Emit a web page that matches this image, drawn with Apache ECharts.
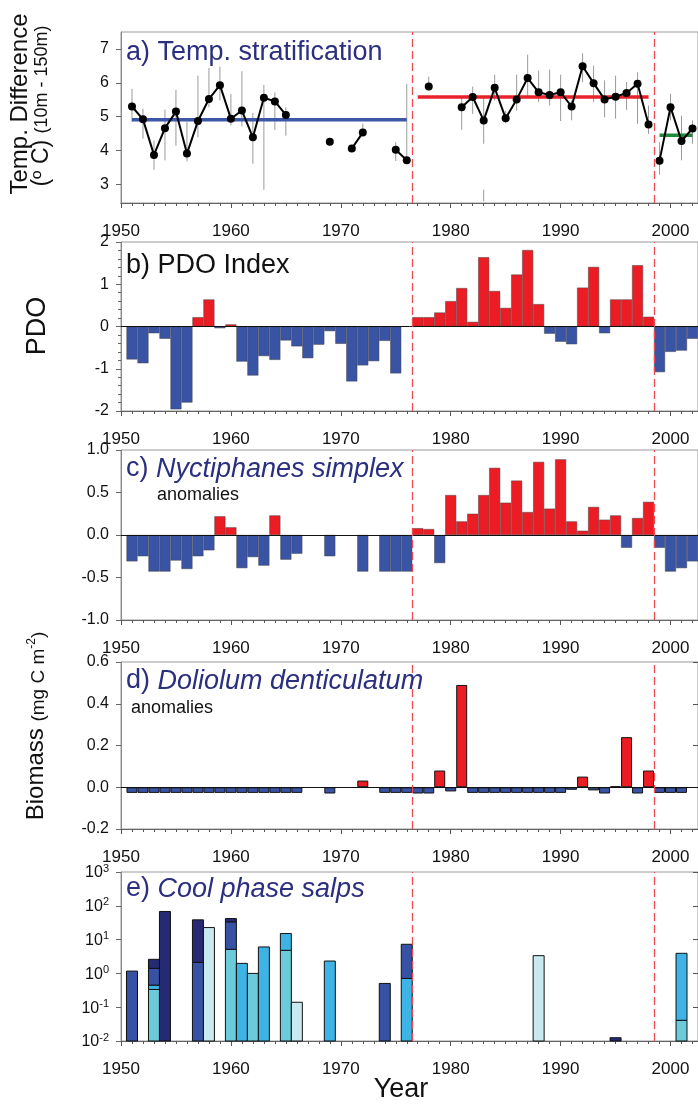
<!DOCTYPE html>
<html>
<head>
<meta charset="utf-8">
<script src="https://cdn.jsdelivr.net/npm/echarts@6/dist/echarts.min.js"></script>
<style>
  html, body { margin: 0; padding: 0; background: #fff; }
  #main { width: 698px; height: 1105px; }
</style>
</head>
<body>
<div id="main"></div>
<script>
// ---- data -------------------------------------------------------------
var decadeLabels = [1950, 1960, 1970, 1980, 1990, 2000];
var regimeShifts = [1976.5, 1998.5];

// a) temperature stratification (10m - 150m)
var tempYears = [1951, 1952, 1953, 1954, 1955, 1956, 1957, 1958, 1959, 1960, 1961, 1962, 1963, 1964, 1965,
  1969, 1971, 1972, 1975, 1976, 1978,
  1981, 1982, 1983, 1984, 1985, 1986, 1987, 1988, 1989, 1990, 1991, 1992, 1993, 1994, 1995, 1996, 1997, 1998,
  1999, 2000, 2001, 2002];
var tempMean = [5.30, 4.92, 3.87, 4.66, 5.15, 3.91, 4.87, 5.52, 5.93, 4.94, 5.18, 4.39, 5.56, 5.45, 5.05,
  4.26, 4.06, 4.53, 4.02, 3.71, 5.89,
  5.28, 5.58, 4.89, 5.85, 4.95, 5.51, 6.14, 5.72, 5.64, 5.72, 5.30, 6.49, 5.99, 5.51, 5.59, 5.70, 5.97, 4.77,
  3.70, 5.28, 4.28, 4.65];
var tempHi = [5.82, 5.23, 4.30, 5.21, 5.79, 4.84, 6.21, 6.44, 6.48, 5.67, 6.34, 5.11, 5.94, 5.72, 5.28,
  null, null, 4.79, 4.25, 5.97, 6.18,
  5.57, 5.89, 5.57, 6.24, 5.18, 6.24, 6.83, 6.36, 6.39, 6.24, 5.48, 6.87, 6.51, 6.07, 6.21, 6.02, 6.31, 5.33,
  4.25, 5.67, 5.03, 4.89];
var tempLo = [4.84, 4.35, 3.43, 3.71, 4.14, 3.68, 4.39, 5.28, 5.48, 4.74, 4.71, 3.61, 2.84, 4.61, 4.44,
  null, null, 4.49, 3.69, 3.71, 5.77,
  4.61, 5.08, 4.20, 5.48, 4.80, 5.18, 5.57, 5.43, 5.33, 4.87, 4.89, 6.02, 5.43, 4.98, 4.94, 5.20, 4.79, 4.49,
  3.29, 4.89, 3.71, 4.20];
var tempExtraYears = [1983];
var tempExtraLo = [2.50];
var tempExtraHi = [2.84];
var tempBreakAfter = [1965, 1969, 1972, 1976, 1978, 1998];
var periodStart = [1951, 1977, 1999];
var periodEnd = [1976, 1998, 2002];
var periodMean = [4.91, 5.58, 4.45];

// b) - d) annual values 1951..2002
var years = [];
for (var yr = 1951; yr <= 2002; yr++) years.push(yr);

var pdoValues = [-0.78, -0.87, -0.16, -0.29, -1.96, -1.80, 0.22, 0.64, -0.04, 0.05,
  -0.83, -1.16, -0.70, -0.79, -0.33, -0.47, -0.75, -0.43, -0.11, -0.41,
  -1.30, -0.92, -0.82, -0.34, -1.11, null, 0.22, 0.22, 0.33, 0.60,
  0.91, 0.11, 1.64, 0.84, 0.44, 1.23, 1.81, 0.53, -0.17, -0.36,
  -0.42, 0.92, 1.41, -0.16, 0.64, 0.64, 1.45, 0.23, -1.08, -0.60,
  -0.57, -0.29];

var nyctValues = [-0.31, -0.25, -0.43, -0.43, -0.30, -0.40, -0.25, -0.18, 0.22, 0.09,
  -0.39, -0.26, -0.36, 0.23, -0.29, -0.22, null, null, -0.25, null,
  null, -0.43, null, -0.43, -0.43, -0.43, 0.08, 0.07, -0.33, 0.47,
  0.16, 0.25, 0.47, 0.79, 0.38, 0.64, 0.27, 0.86, 0.31, 0.89,
  0.16, 0.05, 0.33, 0.18, 0.23, -0.15, 0.20, 0.39, -0.15, -0.43,
  -0.39, -0.31];

var dolioValues = [-0.027, -0.027, -0.027, -0.027, -0.027, -0.027, -0.027, -0.027, -0.027, -0.027,
  -0.027, -0.027, -0.027, -0.027, -0.027, -0.027, null, null, -0.03, null,
  null, 0.032, null, -0.027, -0.027, -0.027, -0.03, -0.03, 0.08, -0.02,
  0.49, -0.027, -0.027, -0.027, -0.027, -0.027, -0.027, -0.027, -0.027, -0.027,
  -0.012, 0.051, -0.015, -0.03, 0.005, 0.24, -0.03, 0.08, -0.027, -0.027,
  -0.027, null];

// e) cool phase salps, biomass per species group (stacked, bottom to top)
var salpYears = [1951, 1953, 1954, 1957, 1958, 1960, 1961, 1962, 1963, 1965, 1966, 1969, 1974, 1976, 1988, 1995, 2001];
var salpLight = [0, 0, 0, 0, 22.7, 0, 0, 0, 0, 0, 0.14, 0, 0, 0, 3.35, 0, 0];
var salpTeal = [0, 0.335, 0, 0, 0, 5.16, 0, 1.0, 0, 4.82, 0, 0, 0, 0, 0, 0, 0.041];
var salpCyan = [0, 0.115, 0, 0, 0, 0, 1.98, 0, 6.06, 10.3, 0, 2.32, 0, 0.71, 0, 0, 3.89];
var salpRoyal = [1.17, 0.96, 0, 2.12, 0, 28.3, 0, 0, 0, 0, 0, 0, 0.505, 6.56, 0, 0, 0];
var salpNavy = [0, 1.2, 68, 36.3, 0, 8.5, 0, 0, 0, 0, 0, 0, 0, 0, 0, 0.0125, 0];
var salpLayers = [salpLight, salpTeal, salpCyan, salpRoyal, salpNavy];
var salpColors = ['#c9e9f1', '#6ccbdb', '#3db4e5', '#3752a5', '#262a74'];

// ---- layout -----------------------------------------------------------
var FONT = "'Liberation Sans', Arial, sans-serif";
var RED = '#ec1c24', BLUE = '#3a54a5', NAVY = '#2b2f80';
var X_MIN = 1950, X_MAX = 2002.5;
var GRID_LEFT = 121, GRID_RIGHT = 0;
var plotW = 698 - GRID_LEFT - GRID_RIGHT;
var barW = plotW / (X_MAX - X_MIN);
var panels = [
  { top: 32, height: 171 },
  { top: 242, height: 169 },
  { top: 450, height: 170 },
  { top: 662, height: 167 },
  { top: 872, height: 169 }
];

var chart = echarts.init(document.getElementById('main'));

var grids = panels.map(function (p) {
  return { left: GRID_LEFT, right: GRID_RIGHT, top: p.top, height: p.height,
    show: true, borderColor: '#999', borderWidth: 1, backgroundColor: 'transparent' };
});

var xAxes = [];
panels.forEach(function (p, i) {
  // decade ticks + labels
  xAxes.push({
    type: 'value', gridIndex: i, min: X_MIN, max: X_MAX, position: 'bottom',
    axisLine: { onZero: false, lineStyle: { color: '#666', width: 1 } },
    axisTick: { customValues: decadeLabels, length: 5, lineStyle: { color: '#555' } },
    axisLabel: { customValues: decadeLabels, fontSize: 17, fontFamily: FONT, color: '#111', margin: 20,
      formatter: function (v) { return String(v); } },
    splitLine: { show: false }
  });
  // yearly ticks
  xAxes.push({
    type: 'value', gridIndex: i, min: X_MIN, max: X_MAX, interval: 1, position: 'bottom',
    axisLine: { show: true, onZero: false, lineStyle: { color: '#666', width: 1 } },
    axisTick: { show: true, length: 3, lineStyle: { color: '#555' } },
    axisLabel: { show: false },
    splitLine: { show: false }
  });
});

function leftAxis(i, extra) {
  var ax = {
    type: 'value', gridIndex: i, position: 'left',
    axisLine: { show: true, onZero: false, lineStyle: { color: '#888' } },
    axisTick: { show: true, length: 5, lineStyle: { color: '#666' } },
    axisLabel: { fontSize: 16, fontFamily: FONT, color: '#111', margin: 12 },
    splitLine: { show: false }
  };
  return Object.assign(ax, extra);
}

var yAxes = [
  leftAxis(0, { min: 2.45, max: 7.5,
    axisTick: { show: true, length: 5, customValues: [3, 4, 5, 6, 7], lineStyle: { color: '#666' } },
    axisLabel: { fontSize: 16, fontFamily: FONT, color: '#111', margin: 12, customValues: [3, 4, 5, 6, 7] } }),
  leftAxis(1, { min: -2, max: 2, interval: 1,
    minorTick: { show: true, splitNumber: 5, length: 3, lineStyle: { color: '#666' } } }),
  leftAxis(2, { min: -1, max: 1, interval: 0.5,
    axisLabel: { fontSize: 16, fontFamily: FONT, color: '#111', margin: 12,
      formatter: function (v) { return v.toFixed(1); } } }),
  leftAxis(3, { min: -0.2, max: 0.6, interval: 0.2,
    axisLabel: { fontSize: 16, fontFamily: FONT, color: '#111', margin: 12,
      formatter: function (v) { return v.toFixed(1); } } }),
  leftAxis(4, { type: 'log', logBase: 10, min: 0.01, max: 1000, interval: 1,
    axisLabel: { margin: 12, color: '#111',
      formatter: function (v) { return '{b|10}{s|' + Math.round(Math.log10(v)) + '}'; },
      rich: { b: { fontSize: 16, fontFamily: FONT, color: '#111', lineHeight: 18, verticalAlign: 'bottom' },
              s: { fontSize: 11, fontFamily: FONT, color: '#111', lineHeight: 18, verticalAlign: 'top' } } } }),
  // mirrored inward ticks on the right of panels d and e
  { type: 'value', gridIndex: 3, position: 'right', min: -0.2, max: 0.6, interval: 0.2,
    axisLine: { show: true, lineStyle: { color: '#999' } },
    axisTick: { inside: true, length: 5, lineStyle: { color: '#555' } },
    axisLabel: { show: false }, splitLine: { show: false } },
  { type: 'log', gridIndex: 4, position: 'right', min: 0.01, max: 1000, interval: 1,
    axisLine: { show: true, lineStyle: { color: '#999' } },
    axisTick: { inside: true, length: 5, lineStyle: { color: '#555' } },
    axisLabel: { show: false }, splitLine: { show: false } }
];

function regimeLines(i) {
  return {
    type: 'line', xAxisIndex: 2 * i, yAxisIndex: i, data: [], z: 10, silent: true,
    markLine: {
      silent: true, symbol: 'none', animation: false,
      label: { show: false },
      lineStyle: { color: '#ef4a50', type: [8, 4], width: 1.3 },
      data: regimeShifts.map(function (x) { return { xAxis: x }; })
    }
  };
}

function anomalyBars(i, values, border) {
  var data = [];
  years.forEach(function (y, k) { if (values[k] != null) data.push([y, values[k]]); });
  return {
    type: 'bar', xAxisIndex: 2 * i, yAxisIndex: i, data: data, barWidth: barW, z: 2,
    itemStyle: {
      color: function (p) { return p.value[1] >= 0 ? RED : BLUE; },
      borderColor: border.color, borderWidth: border.width
    },
    markLine: {
      silent: true, symbol: 'none', animation: false, label: { show: false },
      lineStyle: { color: '#111', type: 'solid', width: 1 },
      data: [{ yAxis: 0 }]
    }
  };
}

var series = [];

// panel a: error bars, period means, observations
var errData = [];
tempYears.forEach(function (y, k) { if (tempLo[k] != null) errData.push([y, tempLo[k], tempHi[k]]); });
tempExtraYears.forEach(function (y, k) { errData.push([y, tempExtraLo[k], tempExtraHi[k]]); });
series.push({
  type: 'custom', xAxisIndex: 0, yAxisIndex: 0, data: errData, z: 1,
  encode: { x: 0, y: [1, 2] },
  renderItem: function (params, api) {
    var p1 = api.coord([api.value(0), api.value(1)]);
    var p2 = api.coord([api.value(0), api.value(2)]);
    return { type: 'line', shape: { x1: p1[0], y1: p1[1], x2: p2[0], y2: p2[1] },
      style: { stroke: '#9a9a9a', lineWidth: 1 } };
  }
});
var meanColors = ['#3c57a8', '#e8222a', '#1e8b3d'];
periodMean.forEach(function (m, k) {
  series.push({
    type: 'line', xAxisIndex: 0, yAxisIndex: 0, z: 2, symbol: 'none',
    data: [[periodStart[k], m], [periodEnd[k], m]],
    lineStyle: { color: meanColors[k], width: 3.5 }
  });
});
var segs = [], cur = [];
tempYears.forEach(function (y, k) {
  cur.push([y, tempMean[k]]);
  if (tempBreakAfter.indexOf(y) >= 0) { segs.push(cur); cur = []; }
});
if (cur.length) segs.push(cur);
segs.forEach(function (s) {
  series.push({
    type: 'line', xAxisIndex: 0, yAxisIndex: 0, z: 3, data: s,
    symbol: 'circle', symbolSize: 8, itemStyle: { color: '#000' },
    lineStyle: { color: '#000', width: 2 }
  });
});

// panels b - d
series.push(anomalyBars(1, pdoValues, { color: '#444', width: 0.5 }));
series.push(anomalyBars(2, nyctValues, { color: '#444', width: 0.5 }));
series.push(anomalyBars(3, dolioValues, { color: '#111', width: 1 }));

// panel e: stacked log bars
var salpData = [];
salpYears.forEach(function (y, k) {
  var cum = 0;
  salpLayers.forEach(function (layer, j) {
    var v = layer[k];
    if (v > 0) {
      var lo = cum > 0 ? cum : 0.01;
      cum += v;
      salpData.push([y, lo, cum, j]);
    }
  });
});
series.push({
  type: 'custom', xAxisIndex: 8, yAxisIndex: 4, data: salpData, z: 2,
  encode: { x: 0, y: [1, 2] },
  renderItem: function (params, api) {
    var x = api.value(0);
    var p0 = api.coord([x - 0.5, api.value(1)]);
    var p1 = api.coord([x + 0.5, api.value(2)]);
    return { type: 'rect',
      shape: { x: p0[0], y: p1[1], width: p1[0] - p0[0], height: p0[1] - p1[1] },
      style: { fill: salpColors[api.value(3)], stroke: '#111', lineWidth: 1 } };
  }
});

for (var i = 0; i < 5; i++) series.push(regimeLines(i));

// ---- text ---------------------------------------------------------------
function txt(x, y, text, size, color, align) {
  return { type: 'text', x: x, y: y, z: 20, silent: true,
    style: { text: text, font: size + 'px ' + FONT, fill: color || '#111',
      align: align || 'left', verticalAlign: 'middle' } };
}
function richTxt(x, y, text, rich, rotation) {
  return { type: 'text', x: x, y: y, z: 20, silent: true, rotation: rotation || 0,
    style: { text: text, rich: rich, align: rotation ? 'center' : 'left', verticalAlign: 'middle' } };
}
var titleRich = {
  r: { fontSize: 27, fontFamily: FONT, fill: NAVY },
  i: { fontSize: 27, fontFamily: FONT, fontStyle: 'italic', fill: NAVY }
};

var graphics = [
  txt(126, 53, 'a) Temp. stratification', 27, NAVY),
  txt(126, 266, 'b) PDO Index', 27, '#111'),
  richTxt(126, 469, '{r|c) }{i|Nyctiphanes simplex}', titleRich),
  txt(157, 495, 'anomalies', 18, '#111'),
  richTxt(126, 681, '{r|d) }{i|Doliolum denticulatum}', titleRich),
  txt(131, 708, 'anomalies', 18, '#111'),
  richTxt(126, 889, '{r|e) }{i|Cool phase salps}', titleRich),
  richTxt(20, 104, '{a|Temp. Difference}', { a: { fontSize: 24, fontFamily: FONT, fill: '#111' } }, Math.PI / 2),
  richTxt(42, 106, '{a|(º C) }{b|(10m - 150m)}', {
    a: { fontSize: 23, fontFamily: FONT, fill: '#111' },
    b: { fontSize: 18, fontFamily: FONT, fill: '#111' } }, Math.PI / 2),
  richTxt(38, 326, '{a|PDO}', { a: { fontSize: 27, fontFamily: FONT, fill: '#111' } }, Math.PI / 2),
  richTxt(37, 726, '{a|Biomass }{b|(mg C m}{s|-2}{b|)}', {
    a: { fontSize: 24, fontFamily: FONT, fill: '#111', lineHeight: 22, verticalAlign: 'bottom' },
    b: { fontSize: 19, fontFamily: FONT, fill: '#111', lineHeight: 22, verticalAlign: 'bottom' },
    s: { fontSize: 12, fontFamily: FONT, fill: '#111', lineHeight: 22, verticalAlign: 'top' } }, Math.PI / 2),
  txt(401, 1090, 'Year', 27, '#111', 'center')
];

chart.setOption({
  animation: false,
  backgroundColor: '#fff',
  grid: grids,
  xAxis: xAxes,
  yAxis: yAxes,
  series: series,
  graphic: graphics
});
</script>
</body>
</html>
